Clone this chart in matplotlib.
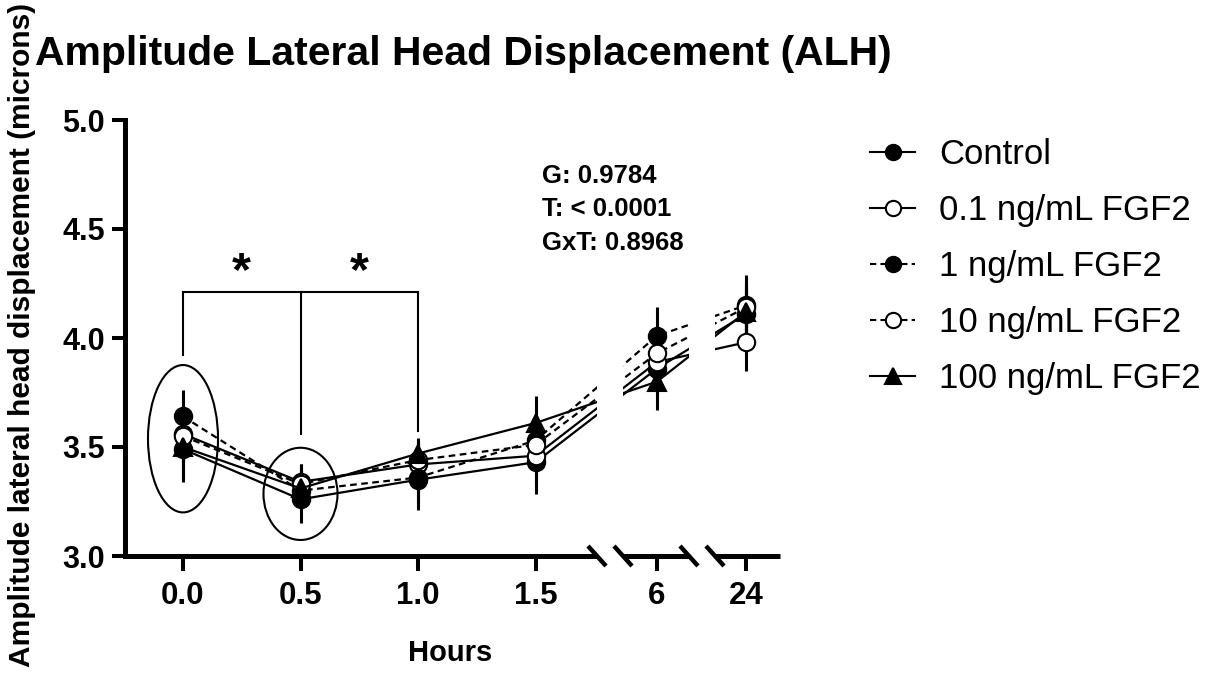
import numpy as np
import matplotlib
matplotlib.use('Agg')
import matplotlib.pyplot as plt
from matplotlib.patches import Ellipse
from matplotlib.lines import Line2D

plt.rcParams['font.family'] = ['Liberation Sans', 'DejaVu Sans']

# data
hours = ['0.0', '0.5', '1.0', '1.5', '6', '24']
groups = ['Control', '0.1 ng/mL FGF2', '1 ng/mL FGF2', '10 ng/mL FGF2', '100 ng/mL FGF2']
control = [3.49, 3.26, 3.35, 3.43, 3.86, 4.11]
fgf_01 = [3.56, 3.34, 3.42, 3.46, 3.89, 3.98]
fgf_1 = [3.64, 3.30, 3.36, 3.53, 4.01, 4.15]
fgf_10 = [3.55, 3.33, 3.44, 3.51, 3.93, 4.14]
fgf_100 = [3.50, 3.31, 3.47, 3.61, 3.80, 4.12]
sem_control = [0.15, 0.11, 0.14, 0.145, 0.12, 0.12]
sem_01 = [0.13, 0.08, 0.10, 0.12, 0.12, 0.13]
sem_1 = [0.12, 0.09, 0.12, 0.12, 0.13, 0.14]
sem_10 = [0.13, 0.09, 0.09, 0.12, 0.12, 0.12]
sem_100 = [0.14, 0.09, 0.07, 0.125, 0.13, 0.12]
stats_text = ['G: 0.9784', 'T: < 0.0001', 'GxT: 0.8968']

means = [control, fgf_01, fgf_1, fgf_10, fgf_100]
sems = [sem_control, sem_01, sem_1, sem_10, sem_100]

# layout (pixels of the 1214x673 canvas)
W, H = 1214, 673
y_top, y_bot = 120, 556
x0px, scale = 183, 235.0          # pixel of hour 0.0, pixels per plot unit
segs = [(125, 597), (623, 689), (715, 780)]
seg_ticks = [[0, 1, 2, 3], [4], [5]]
xpos = np.array([0, 0.5, 1.0, 1.5, (657 - x0px) / scale, (746 - x0px) / scale])

dash = (0, (3, 2))
styles = [dict(ls='-', marker='o', mfc='black'),
          dict(ls='-', marker='o', mfc='white'),
          dict(ls=dash, marker='o', mfc='black'),
          dict(ls=dash, marker='o', mfc='white'),
          dict(ls='-', marker='^', mfc='black')]

fig = plt.figure(figsize=(W / 100, H / 100), dpi=100)

axes = []
for i, (a, b) in enumerate(segs):
    ax = fig.add_axes([a / W, (H - y_bot) / H, (b - a) / W, (y_bot - y_top) / H])
    ax.set_xlim((a - x0px) / scale, (b - x0px) / scale)
    ax.set_ylim(3.0, 5.0)
    for m, e, st in zip(means, sems, styles):
        ax.errorbar(xpos, m, yerr=e, color='black', lw=1.6, ls=st['ls'],
                    marker=st['marker'], ms=12.5, mfc=st['mfc'], mec='black',
                    mew=1.5, elinewidth=2.2, capsize=0)
    for s in ['top', 'right']:
        ax.spines[s].set_visible(False)
    ax.spines['bottom'].set_linewidth(3.6)
    ax.spines['bottom'].set_capstyle('butt')
    ax.set_xticks(xpos[seg_ticks[i]])
    ax.set_xticklabels([hours[k] for k in seg_ticks[i]], fontsize=22.5, fontweight='bold')
    ax.tick_params(axis='x', length=11, width=2.9, pad=7)
    if i == 0:
        ax.spines['left'].set_linewidth(3.6)
        ax.spines['left'].set_capstyle('projecting')
        ax.set_yticks([3.0, 3.5, 4.0, 4.5, 5.0])
        ax.set_yticklabels(['3.0', '3.5', '4.0', '4.5', '5.0'], fontsize=22, fontweight='bold')
        ax.tick_params(axis='y', length=9.5, width=2.9, pad=5)
    else:
        ax.spines['left'].set_visible(False)
        ax.set_yticks([])
    ax.patch.set_alpha(0)
    axes.append(ax)

ax = axes[0]
# ellipses around 0.0 and 0.5
ax.add_patch(Ellipse((0.0, 3.538), 0.298, 0.676, fill=False, lw=1.5, ec='black'))
ax.add_patch(Ellipse((0.5, 3.285), 0.315, 0.423, fill=False, lw=1.5, ec='black'))
# significance bracket
yb = 4.209
ax.plot([0.0, 1.0], [yb, yb], color='black', lw=1.5)
ax.plot([0.0, 0.0], [yb, 3.92], color='black', lw=1.5)
ax.plot([0.5, 0.5], [yb, 3.56], color='black', lw=1.5)
ax.plot([1.0, 1.0], [yb, 3.575], color='black', lw=1.5)
for xs in [0.25, 0.75]:
    ax.text(xs, 4.30, '*', fontsize=35, fontweight='bold', ha='center', va='center')

# axis break marks
for xc in [597, 623, 689, 715]:
    fig.add_artist(Line2D([(xc - 9) / W, (xc + 9) / W],
                          [(H - (y_bot - 10)) / H, (H - (y_bot + 10)) / H],
                          color='black', lw=3.2, solid_capstyle='butt'))

# texts
fig.text(35 / W, (H - 65) / H, 'Amplitude Lateral Head Displacement (ALH)',
         fontsize=29.4, fontweight='bold', ha='left', va='baseline')
fig.text(22 / W, (H - 335) / H, 'Amplitude lateral head displacement (microns)',
         fontsize=21.5, fontweight='bold', rotation=90, ha='center', va='center')
fig.text(450 / W, (H - 653) / H, 'Hours', fontsize=21, fontweight='bold',
         ha='center', va='center')
fig.text(542 / W, (H - 164) / H, '\n'.join(stats_text), fontsize=18.5,
         fontweight='bold', ha='left', va='top', linespacing=1.5)

handles = [Line2D([], [], color='black', lw=1.5, ls=st['ls'], marker=st['marker'],
                  ms=11, mfc=st['mfc'], mec='black', mew=1.5) for st in styles]
fig.legend(handles, groups, loc='upper left', bbox_to_anchor=(870 / W, (H - 138) / H),
           frameon=False, fontsize=25, handlelength=1.3, handletextpad=0.7,
           labelspacing=0.66, borderpad=0, borderaxespad=0)

fig.savefig('out.png', dpi=100)
